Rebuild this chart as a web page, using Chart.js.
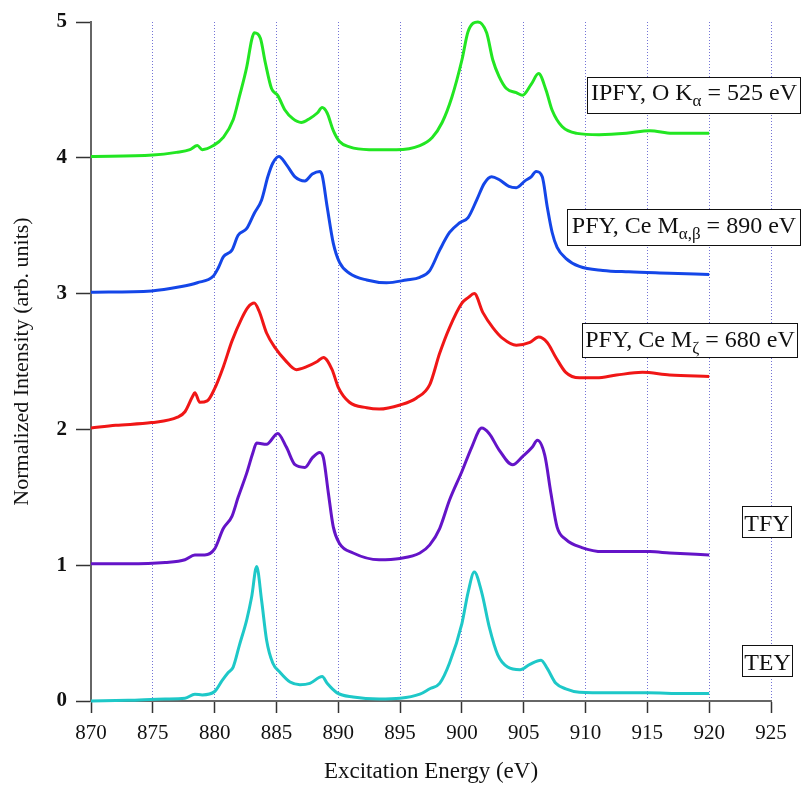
<!DOCTYPE html>
<html>

<head>
    <meta charset="utf-8">
    <title>Ce M4,5 edge spectra</title>
    <style>
        body {
            margin: 0;
            background: #fff;
        }
        canvas {
            display: block;
        }
    </style>
</head>

<body>
    <canvas id="canvas" width="803" height="786"></canvas>
    <script src="https://cdn.jsdelivr.net/npm/chart.js@4.4.0/dist/chart.umd.min.js"></script>
    <script type="text/javascript">
        // excitation energies (eV) and normalized intensities, each curve offset by +1
        var teyEnergy = [870, 873, 876, 877.6, 878.4, 879, 880, 880.6, 881.1, 881.5, 882, 882.6, 883, 883.4, 883.8, 884.2, 884.7, 885.3, 886.1, 886.9, 887.7, 888.7, 889.1, 889.9, 891.2, 893.3, 895, 896.6, 897.4, 898.2, 899, 900, 900.5, 901, 901.6, 902.2, 902.9, 903.7, 904.7, 905.5, 906.4, 906.9, 907.6, 908.4, 909.5, 912, 915, 918, 920];
        var teyIntensity = [0.0, 0.005, 0.015, 0.02, 0.05, 0.045, 0.07, 0.15, 0.21, 0.25, 0.41, 0.60, 0.77, 0.99, 0.74, 0.45, 0.28, 0.21, 0.14, 0.12, 0.13, 0.18, 0.13, 0.06, 0.03, 0.015, 0.02, 0.05, 0.09, 0.13, 0.28, 0.57, 0.80, 0.95, 0.80, 0.55, 0.34, 0.25, 0.23, 0.27, 0.30, 0.24, 0.13, 0.09, 0.065, 0.06, 0.06, 0.055, 0.055];

        var tfyEnergy = [870, 873, 876, 877.6, 878.4, 879.2, 880, 880.7, 881.4, 881.9, 882.6, 883.1, 883.4, 884.2, 885.1, 885.8, 886.5, 887.3, 887.9, 888.5, 888.8, 889.2, 889.6, 890.1, 891.2, 893.3, 895, 896.6, 897.4, 898.2, 899, 900, 900.8, 901.6, 902.2, 903, 904.1, 904.9, 905.7, 906.1, 906.7, 907.2, 907.7, 908.4, 909.7, 911.4, 913.5, 915.2, 916.8, 920];
        var tfyIntensity = [1.01, 1.01, 1.02, 1.04, 1.075, 1.075, 1.12, 1.27, 1.36, 1.50, 1.68, 1.83, 1.90, 1.89, 1.97, 1.87, 1.74, 1.72, 1.79, 1.83, 1.79, 1.53, 1.28, 1.16, 1.09, 1.04, 1.05, 1.09, 1.15, 1.27, 1.48, 1.69, 1.87, 2.01, 1.97, 1.85, 1.74, 1.80, 1.87, 1.92, 1.81, 1.53, 1.28, 1.19, 1.13, 1.10, 1.10, 1.10, 1.09, 1.075];

        var pfyZetaEnergy = [870, 872, 874.9, 877, 877.6, 878.2, 878.4, 878.8, 879.4, 880, 880.7, 881.4, 882.2, 882.7, 883.2, 883.6, 884.2, 884.9, 885.7, 886.6, 887.4, 888.3, 888.8, 889.5, 890, 890.9, 892.3, 893.3, 895, 896.3, 897.4, 898.2, 899, 900, 900.5, 901, 901.7, 902.5, 903.3, 904.4, 905.5, 906.2, 906.9, 907.6, 908.4, 909.5, 910.9, 912.5, 914.6, 916.8, 920];
        var pfyZetaIntensity = [2.01, 2.03, 2.05, 2.09, 2.13, 2.24, 2.27, 2.20, 2.21, 2.30, 2.46, 2.65, 2.82, 2.90, 2.93, 2.87, 2.71, 2.60, 2.51, 2.44, 2.46, 2.50, 2.53, 2.44, 2.31, 2.20, 2.16, 2.15, 2.18, 2.23, 2.33, 2.56, 2.75, 2.93, 2.97, 3.00, 2.86, 2.75, 2.67, 2.62, 2.64, 2.68, 2.64, 2.53, 2.42, 2.38, 2.38, 2.40, 2.42, 2.40, 2.39];

        var pfyAlphaEnergy = [870, 874.9, 877.2, 878.6, 879.9, 880.3, 880.7, 881.4, 881.9, 882.6, 883.2, 883.8, 884.3, 884.7, 885.2, 885.8, 886.5, 887.3, 887.9, 888.5, 888.7, 889.1, 889.6, 890.1, 890.9, 892.3, 893.9, 895.5, 896.6, 897.4, 898.2, 899, 899.8, 900.5, 901.2, 901.8, 902.4, 903, 903.8, 904.4, 905.1, 905.6, 906, 906.5, 906.9, 907.3, 907.7, 908.4, 909.5, 911.4, 913.5, 916.8, 920];
        var pfyAlphaIntensity = [3.01, 3.02, 3.05, 3.08, 3.13, 3.19, 3.27, 3.32, 3.43, 3.48, 3.59, 3.69, 3.86, 3.96, 4.01, 3.95, 3.86, 3.83, 3.88, 3.90, 3.87, 3.64, 3.37, 3.23, 3.15, 3.10, 3.08, 3.10, 3.12, 3.17, 3.32, 3.45, 3.52, 3.56, 3.69, 3.81, 3.86, 3.84, 3.79, 3.78, 3.83, 3.86, 3.90, 3.86, 3.64, 3.45, 3.34, 3.26, 3.20, 3.17, 3.16, 3.15, 3.14];

        var ipfyEnergy = [870, 875, 876.9, 878, 878.6, 879, 879.9, 880.7, 881.5, 882, 882.6, 883, 883.2, 883.7, 884.1, 884.6, 885.1, 885.7, 886.3, 887, 887.7, 888.3, 888.7, 889.1, 889.6, 890.1, 890.9, 892.5, 894.7, 896.6, 897.6, 898.4, 899.2, 900, 900.5, 901.3, 902, 902.5, 903, 903.6, 904.4, 904.9, 905.6, 906.2, 906.8, 907.3, 908.1, 909.3, 911.1, 913.3, 915.2, 917, 920];
        var ipfyIntensity = [4.01, 4.02, 4.04, 4.06, 4.09, 4.06, 4.09, 4.15, 4.28, 4.45, 4.67, 4.87, 4.92, 4.88, 4.70, 4.51, 4.46, 4.35, 4.29, 4.26, 4.29, 4.33, 4.37, 4.33, 4.20, 4.12, 4.08, 4.06, 4.06, 4.09, 4.15, 4.26, 4.45, 4.72, 4.93, 5.00, 4.92, 4.72, 4.60, 4.51, 4.48, 4.46, 4.54, 4.62, 4.50, 4.35, 4.23, 4.18, 4.17, 4.18, 4.20, 4.18, 4.18];

        var xTicks = [870, 875, 880, 885, 890, 895, 900, 905, 910, 915, 920, 925];
        var yTicks = [0, 1, 2, 3, 4, 5];

        var serif = "'Liberation Serif', 'Times New Roman', serif";

        function toPoints(energy, intensity) {
            return energy.map(function(e, i) {
                return { x: e, y: intensity[i] };
            });
        }

        function curve(label, energy, intensity, color) {
            return {
                label: label,
                data: toPoints(energy, intensity),
                borderColor: color,
                backgroundColor: color,
                borderWidth: 3,
                pointRadius: 0,
                fill: false,
                cubicInterpolationMode: 'monotone',
                clip: false
            };
        }

        // boxed curve labels; parts marked sub are drawn as subscripts
        var boxLabels = [
            { parts: [{ t: 'IPFY, O K' }, { t: 'α', sub: true }, { t: ' = 525 eV' }], rect: [587, 77, 214, 37], base: 23 },
            { parts: [{ t: 'PFY, Ce M' }, { t: 'α,β', sub: true }, { t: ' = 890 eV' }], rect: [567, 209, 234, 37], base: 24 },
            { parts: [{ t: 'PFY, Ce M' }, { t: 'ζ', sub: true }, { t: ' = 680 eV' }], rect: [582, 323, 216, 35], base: 24 },
            { parts: [{ t: 'TFY' }], rect: [742, 506, 50, 32], base: 25 },
            { parts: [{ t: 'TEY' }], rect: [742, 645, 51, 32], base: 25 }
        ];

        var boxPlugin = {
            id: 'boxLabels',
            afterDraw: function(chart) {
                var ctx = chart.ctx;
                var mainFont = '24px ' + serif;
                var subFont = '17px ' + serif;
                ctx.save();
                boxLabels.forEach(function(b) {
                    var r = b.rect;
                    ctx.fillStyle = '#fff';
                    ctx.fillRect(r[0], r[1], r[2], r[3]);
                    ctx.strokeStyle = '#111';
                    ctx.lineWidth = 1;
                    ctx.strokeRect(r[0] + 0.5, r[1] + 0.5, r[2] - 1, r[3] - 1);
                    var total = 0;
                    b.parts.forEach(function(p) {
                        ctx.font = p.sub ? subFont : mainFont;
                        p.w = ctx.measureText(p.t).width;
                        total += p.w;
                    });
                    var x = r[0] + (r[2] - total) / 2;
                    var y = r[1] + b.base;
                    ctx.fillStyle = '#111';
                    ctx.textBaseline = 'alphabetic';
                    ctx.textAlign = 'left';
                    b.parts.forEach(function(p) {
                        ctx.font = p.sub ? subFont : mainFont;
                        ctx.fillText(p.t, x, p.sub ? y + 6 : y);
                        x += p.w;
                    });
                });
                ctx.restore();
            }
        };

        var ctx = document.getElementById('canvas').getContext('2d');
        window.spectraChart = new Chart(ctx, {
            type: 'line',
            data: {
                datasets: [
                    curve('TEY', teyEnergy, teyIntensity, '#1ec8c8'),
                    curve('TFY', tfyEnergy, tfyIntensity, '#6414c8'),
                    curve('PFY, Ce Mζ = 680 eV', pfyZetaEnergy, pfyZetaIntensity, '#f01616'),
                    curve('PFY, Ce Mα,β = 890 eV', pfyAlphaEnergy, pfyAlphaIntensity, '#1446e8'),
                    curve('IPFY, O Kα = 525 eV', ipfyEnergy, ipfyIntensity, '#22e622')
                ]
            },
            options: {
                responsive: false,
                animation: false,
                events: [],
                layout: {
                    padding: { left: 0, top: 22, right: 32, bottom: 0 }
                },
                plugins: {
                    legend: { display: false },
                    tooltip: { enabled: false }
                },
                scales: {
                    x: {
                        type: 'linear',
                        min: xTicks[0],
                        max: xTicks[xTicks.length - 1],
                        afterBuildTicks: function(scale) {
                            scale.ticks = xTicks.map(function(v) { return { value: v }; });
                        },
                        afterFit: function(scale) {
                            scale.height = 85;
                        },
                        ticks: {
                            font: { family: serif, size: 21 },
                            color: '#111',
                            padding: 8
                        },
                        grid: {
                            color: 'rgba(100, 100, 210, 0.9)',
                            lineWidth: 1,
                            drawTicks: true,
                            tickLength: 12,
                            tickColor: '#333',
                            tickWidth: 1.5
                        },
                        border: { color: '#666', width: 2, dash: [1, 2] },
                        title: {
                            display: true,
                            text: 'Excitation Energy (eV)',
                            font: { family: serif, size: 23, lineHeight: 1.2 },
                            color: '#111',
                            padding: { top: 0, bottom: 0 }
                        }
                    },
                    y: {
                        type: 'linear',
                        min: yTicks[0],
                        max: yTicks[yTicks.length - 1],
                        afterBuildTicks: function(scale) {
                            scale.ticks = yTicks.map(function(v) { return { value: v }; });
                        },
                        afterFit: function(scale) {
                            scale.width = 91;
                        },
                        ticks: {
                            font: { family: serif, size: 21, weight: 'bold' },
                            color: '#111',
                            padding: 9
                        },
                        grid: {
                            drawOnChartArea: false,
                            drawTicks: true,
                            tickLength: 15,
                            tickColor: '#333',
                            tickWidth: 1.5
                        },
                        border: { color: '#666', width: 2 },
                        title: {
                            display: true,
                            text: 'Normalized Intensity (arb. units)',
                            font: { family: serif, size: 22, lineHeight: 1.2 },
                            color: '#111',
                            padding: { top: 9, bottom: 0 }
                        }
                    }
                }
            },
            plugins: [boxPlugin]
        });
    </script>
</body>

</html>
